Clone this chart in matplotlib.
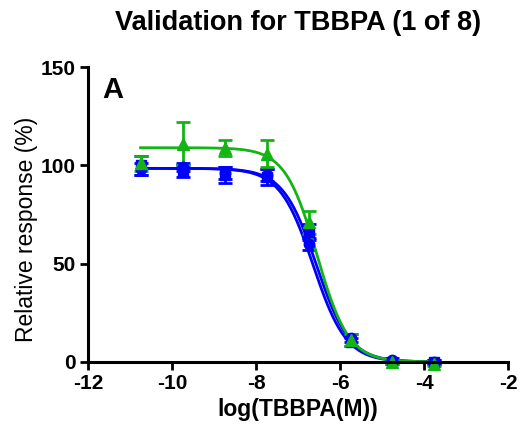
import numpy as np
import matplotlib

matplotlib.use("Agg")
import matplotlib.pyplot as plt

# log concentrations (M)
log_conc = [-10.75, -9.75, -8.75, -7.75, -6.75, -5.75, -4.75, -3.75]

# replicate series (relative response, %)
circle_mean = [98, 99, 96, 95, 60, 12, 1, 0]
circle_err = [3, 2, 3, 3, 3, 2, 1, 1]
square_mean = [100, 97, 95, 94, 66, 10, 0, 0]
square_err = [5, 3, 4, 4, 4, 2, 1, 1]
tri_mean = [101, 111, 109, 106, 71, 11, 0, -1]
tri_err = [4, 11, 4, 7, 6, 3, 1, 1]

# four-parameter logistic fit parameters: top, bottom, logIC50, hill
circle_fit = [98.5, 0.0, -6.64, 1.1]
square_fit = [98.5, 0.0, -6.56, 1.1]
tri_fit = [109.0, 0.0, -6.55, 1.15]

BLUE = "#0000FF"
GREEN = "#14B414"


def four_pl(x, top, bottom, logic50, hill):
    return bottom + (top - bottom) / (1 + 10 ** ((x - logic50) * hill))


plt.rcParams["font.family"] = ["Liberation Sans", "DejaVu Sans"]
plt.rcParams["axes.unicode_minus"] = False

fig = plt.figure(figsize=(5.21, 4.36), dpi=100)
ax = fig.add_axes([0.169, 0.170, 0.806, 0.676])

xs = np.linspace(log_conc[0], log_conc[-1], 300)
series = [
    (circle_mean, circle_err, circle_fit, BLUE, "o", 7.5),
    (square_mean, square_err, square_fit, BLUE, "s", 7.5),
    (tri_mean, tri_err, tri_fit, GREEN, "^", 8.5),
]
for mean, err, fit, color, marker, ms in series:
    ax.plot(xs, four_pl(xs, *fit), color=color, lw=2, clip_on=False)
    ax.errorbar(log_conc, mean, yerr=err, fmt=marker, color=color, ms=ms,
                elinewidth=2, capsize=5, capthick=2, clip_on=False)

ax.set_xlim(-12, -2)
ax.set_ylim(0, 150)
ax.set_xticks([-12, -10, -8, -6, -4, -2])
ax.set_yticks([0, 50, 100, 150])
for s in ["top", "right"]:
    ax.spines[s].set_visible(False)
for s in ["left", "bottom"]:
    ax.spines[s].set_linewidth(2.2)
ax.tick_params(width=2, length=6, labelsize=15, pad=3)
for lab in ax.get_xticklabels() + ax.get_yticklabels():
    lab.set_fontweight("bold")

ax.set_xlabel("log(TBBPA(M))", fontsize=16.5, fontweight="bold", labelpad=3)
ax.set_ylabel("Relative response (%)", fontsize=16.5, labelpad=2)
ax.yaxis.label.set_y(0.45)
ax.text(0.035, 0.97, "A", transform=ax.transAxes, fontsize=21,
        fontweight="bold", va="top", ha="left")
fig.text(0.573, 0.947, "Validation for TBBPA (1 of 8)", fontsize=19.5,
         fontweight="bold", ha="center", va="center")

fig.savefig("out.png", dpi=100)
